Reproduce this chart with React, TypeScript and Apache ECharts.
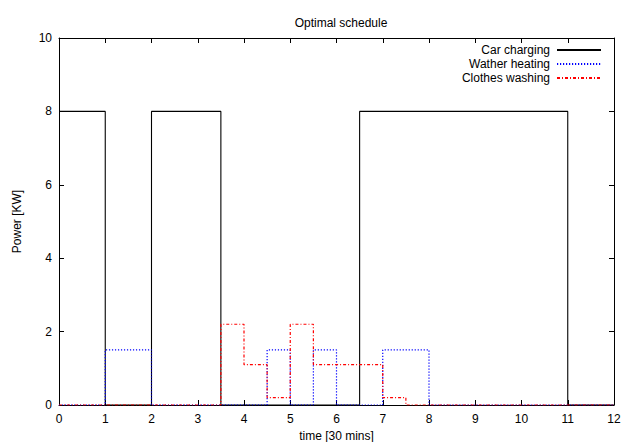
import React, { useEffect, useRef } from "react";
import * as echarts from "echarts";

const title = "Optimal schedule";
const xName = "time [30 mins]";
const yName = "Power [KW]";
const seriesNames = ["Car charging", "Wather heating", "Clothes washing"];

// step points: [time, power] value holds until next point
const carCharging: [number, number][] = [
  [0, 8], [1, 0], [2, 8], [3.5, 0], [6.5, 8], [11, 0], [12, 0],
];
const waterHeating: [number, number][] = [
  [0, 0], [1, 1.5], [2, 0], [4.5, 1.5], [5, 0], [5.5, 1.5], [6, 0], [7, 1.5], [8, 0], [12, 0],
];
const clothesWashing: [number, number][] = [
  [0, 0], [3.5, 2.2], [4, 1.1], [4.5, 0.2], [5, 2.2], [5.5, 1.1], [7, 0.2], [7.5, 0], [12, 0],
];

const FONT = "Liberation Sans, Arial, sans-serif";

export default function App() {
  const ref = useRef<HTMLDivElement>(null);
  useEffect(() => {
    if (!ref.current) return;
    const chart = echarts.init(ref.current, undefined, { renderer: "svg" });
    const axisCommon = {
      type: "value" as const,
      axisLine: { show: true, onZero: false, lineStyle: { color: "#000", width: 1 } },
      axisTick: { show: true, inside: true, length: 5, lineStyle: { color: "#000" } },
      splitLine: { show: false },
    };
    const legendCommon = {
      orient: "horizontal" as const,
      right: 20,
      align: "right" as const,
      itemWidth: 44,
      itemHeight: 12,
      itemGap: 0,
      padding: 0,
      itemStyle: { opacity: 0, color: "transparent", borderWidth: 0 },
      textStyle: { fontFamily: FONT, fontSize: 12, color: "#000", padding: [0, 2, 0, 0] },
    };
    chart.setOption({
      animation: false,
      backgroundColor: "#fff",
      title: {
        text: title,
        left: 336,
        textAlign: "center",
        top: 12,
        textStyle: { fontFamily: FONT, fontSize: 12, fontWeight: "normal", color: "#000" },
      },
      legend: [
        { ...legendCommon, top: 44, data: [seriesNames[0]] },
        { ...legendCommon, top: 58, data: [seriesNames[1]] },
        { ...legendCommon, top: 72, data: [seriesNames[2]] },
      ],
      grid: { left: 59, right: 8, top: 38, bottom: 37, containLabel: false, outerBoundsMode: "none" },
      xAxis: [
        {
          ...axisCommon,
          position: "bottom",
          min: 0,
          max: 12,
          interval: 1,
          name: xName,
          nameLocation: "middle",
          nameGap: 25,
          nameTextStyle: { fontFamily: FONT, fontSize: 12, color: "#000" },
          axisLabel: { fontFamily: FONT, fontSize: 12, color: "#000", margin: 8 },
        },
        {
          ...axisCommon,
          position: "top",
          min: 0,
          max: 12,
          interval: 1,
          axisLabel: { show: false },
        },
      ],
      yAxis: [
        {
          ...axisCommon,
          position: "left",
          min: 0,
          max: 10,
          interval: 2,
          name: yName,
          nameLocation: "middle",
          nameGap: 36,
          nameRotate: 90,
          nameTextStyle: { fontFamily: FONT, fontSize: 12, color: "#000" },
          axisLabel: { fontFamily: FONT, fontSize: 12, color: "#000", margin: 7 },
        },
        {
          ...axisCommon,
          position: "right",
          min: 0,
          max: 10,
          interval: 2,
          axisLabel: { show: false },
        },
      ],
      series: [
        {
          name: seriesNames[0],
          type: "line",
          step: "end",
          symbol: "none",
          data: carCharging,
          color: "#000",
          lineStyle: { color: "#000", width: 1.1, type: "solid" },
          z: 3,
        },
        {
          name: seriesNames[1],
          type: "line",
          step: "end",
          symbol: "none",
          data: waterHeating,
          color: "#0000ff",
          lineStyle: { color: "#0000ff", width: 1.2, type: [1.2, 1.8] },
          z: 4,
        },
        {
          name: seriesNames[2],
          type: "line",
          step: "end",
          symbol: "none",
          data: clothesWashing,
          color: "#ff0000",
          lineStyle: { color: "#ff0000", width: 1.2, type: [3, 2, 1, 2] },
          z: 5,
        },
      ],
    });
    return () => chart.dispose();
  }, []);
  return <div ref={ref} style={{ width: 622, height: 442, position: "absolute", left: 0, top: 0 }} />;
}
